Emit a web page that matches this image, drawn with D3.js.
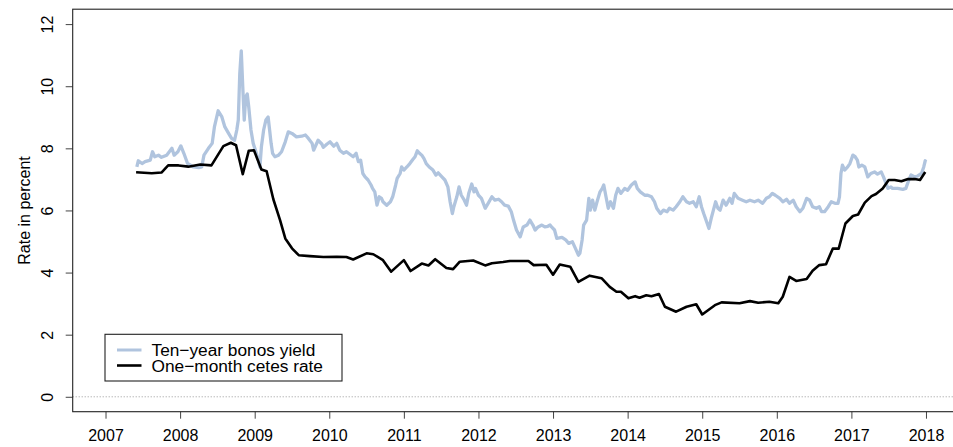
<!DOCTYPE html>
<html>
  <head>
    <meta charset="utf-8">
    <style>
      body { margin: 0; background: white; }
      svg { display: block; font-family: "Liberation Sans", Arial, Helvetica, sans-serif; }
    </style>
    <script src="https://d3js.org/d3.v7.min.js"></script>
    <title>bonos vs cetes</title>
  </head>
  <body>
    <div id="my_dataviz"></div>
    <script>
    // ---- data (decimal year, percent)
    var bonosDates = [2007.42,2007.44,2007.49,2007.53,2007.60,2007.63,2007.66,2007.71,2007.75,2007.82,2007.89,2007.92,2007.97,2008.01,2008.05,2008.10,2008.18,2008.25,2008.29,2008.32,2008.38,2008.43,2008.46,2008.51,2008.56,2008.60,2008.65,2008.69,2008.73,2008.76,2008.78,2008.80,2008.82,2008.84,2008.86,2008.88,2008.90,2008.92,2008.95,2008.98,2009.01,2009.05,2009.07,2009.09,2009.12,2009.15,2009.18,2009.20,2009.22,2009.24,2009.27,2009.32,2009.36,2009.41,2009.45,2009.50,2009.56,2009.63,2009.68,2009.72,2009.77,2009.79,2009.82,2009.85,2009.90,2009.92,2009.97,2010.01,2010.06,2010.10,2010.14,2010.19,2010.23,2010.28,2010.32,2010.36,2010.39,2010.42,2010.45,2010.48,2010.52,2010.56,2010.58,2010.61,2010.64,2010.67,2010.70,2010.72,2010.77,2010.82,2010.85,2010.89,2010.91,2010.95,2010.97,2011.00,2011.04,2011.08,2011.12,2011.15,2011.18,2011.21,2011.24,2011.27,2011.30,2011.34,2011.39,2011.43,2011.46,2011.51,2011.55,2011.59,2011.62,2011.65,2011.67,2011.71,2011.74,2011.77,2011.81,2011.84,2011.87,2011.91,2011.94,2011.96,2012.00,2012.04,2012.09,2012.13,2012.18,2012.22,2012.27,2012.31,2012.35,2012.40,2012.44,2012.47,2012.51,2012.56,2012.60,2012.65,2012.69,2012.73,2012.76,2012.80,2012.85,2012.89,2012.93,2012.96,2012.98,2013.02,2013.05,2013.12,2013.17,2013.21,2013.26,2013.30,2013.34,2013.36,2013.39,2013.41,2013.45,2013.48,2013.50,2013.53,2013.56,2013.59,2013.63,2013.66,2013.68,2013.71,2013.74,2013.77,2013.81,2013.84,2013.87,2013.91,2013.96,2014.00,2014.05,2014.10,2014.13,2014.17,2014.23,2014.27,2014.32,2014.36,2014.39,2014.44,2014.48,2014.53,2014.56,2014.61,2014.65,2014.70,2014.74,2014.79,2014.83,2014.88,2014.92,2014.96,2014.99,2015.02,2015.06,2015.09,2015.12,2015.15,2015.18,2015.21,2015.24,2015.28,2015.32,2015.37,2015.40,2015.43,2015.48,2015.54,2015.59,2015.64,2015.70,2015.75,2015.81,2015.86,2015.90,2015.94,2015.98,2016.04,2016.08,2016.13,2016.17,2016.22,2016.26,2016.31,2016.35,2016.40,2016.44,2016.48,2016.53,2016.57,2016.60,2016.64,2016.69,2016.73,2016.78,2016.82,2016.84,2016.86,2016.88,2016.91,2016.95,2016.98,2017.02,2017.05,2017.08,2017.10,2017.14,2017.18,2017.22,2017.26,2017.31,2017.35,2017.40,2017.43,2017.49,2017.53,2017.55,2017.62,2017.69,2017.73,2017.77,2017.80,2017.85,2017.89,2017.94,2017.97,2017.99,2018.00]
    var bonosValues = [7.40,7.60,7.51,7.57,7.62,7.89,7.73,7.78,7.71,7.78,8.00,7.78,7.89,8.08,7.84,7.51,7.40,7.38,7.40,7.78,8.00,8.16,8.69,9.21,9.01,8.69,8.48,8.32,8.26,8.59,8.91,10.41,11.14,9.98,8.91,9.66,9.75,9.34,8.59,8.16,7.94,7.62,7.40,8.05,8.59,8.91,9.01,8.59,8.16,7.84,7.73,7.78,7.89,8.21,8.53,8.48,8.37,8.39,8.43,8.32,8.16,7.94,8.10,8.26,8.14,8.03,8.14,8.21,8.07,8.16,7.94,7.84,7.89,7.80,7.73,7.84,7.57,7.62,7.19,7.08,6.98,6.82,6.71,6.60,6.17,6.44,6.39,6.28,6.17,6.28,6.44,6.82,7.03,7.19,7.40,7.30,7.40,7.51,7.64,7.73,7.92,7.84,7.78,7.67,7.51,7.40,7.30,7.14,7.21,7.08,6.98,6.76,6.28,5.90,6.12,6.44,6.76,6.49,6.33,6.17,6.55,6.85,6.60,6.71,6.49,6.39,6.07,6.23,6.44,6.33,6.36,6.28,6.17,6.14,5.96,5.69,5.37,5.15,5.47,5.53,5.69,5.53,5.37,5.47,5.53,5.47,5.49,5.53,5.47,5.37,5.10,5.13,5.05,4.94,4.99,4.78,4.56,4.62,5.05,5.53,5.69,6.39,6.01,6.33,6.01,6.28,6.60,6.71,6.82,6.44,6.07,6.28,6.07,6.49,6.71,6.55,6.71,6.65,6.82,6.92,6.71,6.60,6.49,6.49,6.44,6.28,6.07,5.90,6.01,5.96,6.07,6.01,6.12,6.28,6.44,6.28,6.23,6.28,6.12,6.44,6.12,5.90,5.63,5.42,5.74,6.01,6.28,6.07,6.01,6.33,6.17,6.39,6.23,6.55,6.39,6.33,6.28,6.33,6.28,6.33,6.23,6.39,6.44,6.55,6.49,6.39,6.28,6.36,6.23,6.33,6.12,5.96,6.07,6.39,6.33,6.12,6.07,6.12,5.96,5.96,6.12,6.28,6.23,6.23,6.44,7.19,7.46,7.30,7.40,7.51,7.78,7.73,7.62,7.40,7.46,7.40,7.08,7.19,7.24,7.17,7.24,7.08,6.71,6.76,6.71,6.71,6.68,6.71,6.98,7.14,7.08,7.11,7.19,7.40,7.60,7.57]

    var cetesDates = [2007.41,2007.62,2007.75,2007.84,2007.98,2008.11,2008.27,2008.42,2008.58,2008.68,2008.75,2008.84,2008.92,2008.99,2009.09,2009.16,2009.25,2009.34,2009.41,2009.50,2009.59,2009.74,2009.92,2010.10,2010.23,2010.32,2010.50,2010.59,2010.72,2010.83,2011.00,2011.09,2011.24,2011.33,2011.42,2011.57,2011.66,2011.75,2011.93,2012.09,2012.18,2012.33,2012.42,2012.67,2012.74,2012.91,2013.00,2013.09,2013.23,2013.34,2013.49,2013.65,2013.76,2013.85,2013.91,2014.01,2014.10,2014.16,2014.25,2014.32,2014.42,2014.50,2014.65,2014.79,2014.92,2015.00,2015.17,2015.26,2015.50,2015.64,2015.75,2015.90,2016.02,2016.08,2016.17,2016.26,2016.40,2016.48,2016.57,2016.66,2016.75,2016.83,2016.92,2017.02,2017.09,2017.18,2017.27,2017.33,2017.42,2017.50,2017.58,2017.67,2017.76,2017.85,2017.92,2017.99]
    var cetesValues = [7.23,7.20,7.22,7.45,7.45,7.41,7.48,7.45,8.07,8.18,8.10,7.17,7.92,7.94,7.32,7.26,6.36,5.69,5.10,4.78,4.56,4.53,4.50,4.51,4.50,4.42,4.62,4.59,4.40,4.03,4.40,4.05,4.29,4.23,4.43,4.15,4.11,4.35,4.39,4.23,4.30,4.34,4.37,4.37,4.24,4.25,3.93,4.26,4.19,3.70,3.90,3.82,3.54,3.38,3.38,3.17,3.24,3.19,3.27,3.24,3.31,2.90,2.74,2.90,2.98,2.65,2.95,3.04,3.01,3.08,3.03,3.06,3.01,3.22,3.86,3.73,3.79,4.06,4.24,4.27,4.77,4.77,5.58,5.82,5.87,6.25,6.46,6.53,6.71,6.98,6.98,6.94,7.01,7.01,6.98,7.24]

    var yearTicks = [2007,2008,2009,2010,2011,2012,2013,2014,2015,2016,2017,2018]
    var rateTicks = [0,2,4,6,8,10,12]
    var seriesNames = ["Ten\u2212year bonos yield", "One\u2212month cetes rate"]
    var seriesColors = ["#b0c4de", "black"]

    // ---- page size and plot region (names chosen so they don't clash with window.top)
    var W = 953, H = 447
    var plotL = 72.7, plotR = 958.8, plotT = 9.2, plotB = 411.7

    var svg = d3.select("#my_dataviz")
      .append("svg")
        .attr("width", W)
        .attr("height", H)

    // R style 4% padding around the data range
    var x = d3.scaleLinear().domain([2006.56, 2018.44]).range([plotL, plotR])
    var y = d3.scaleLinear().domain([-0.48, 12.48]).range([plotB, plotT])

    var bonos = bonosDates.map(function(d, i) { return [d, bonosValues[i]] })
    var cetes = cetesDates.map(function(d, i) { return [d, cetesValues[i]] })

    var line = d3.line()
      .x(function(d) { return x(d[0]) })
      .y(function(d) { return y(d[1]) })

    // dotted zero line
    svg.append("line")
      .attr("x1", plotL).attr("x2", plotR)
      .attr("y1", y(0)).attr("y2", y(0))
      .style("stroke", "#999")
      .style("stroke-width", 1)
      .style("stroke-dasharray", "1,2")

    // the two series
    svg.append("path")
      .attr("d", line(bonos))
      .style("fill", "none")
      .style("stroke", seriesColors[0])
      .style("stroke-width", 3.3)
      .style("stroke-linejoin", "round")

    svg.append("path")
      .attr("d", line(cetes))
      .style("fill", "none")
      .style("stroke", seriesColors[1])
      .style("stroke-width", 2.6)
      .style("stroke-linejoin", "round")

    // axes
    var xAxis = svg.append("g")
      .attr("transform", "translate(0," + plotB + ")")
      .call(d3.axisBottom(x).tickValues(yearTicks).tickFormat(d3.format("d")).tickSize(7).tickSizeOuter(0))
    xAxis.select(".domain").remove()
    xAxis.selectAll("text")
      .attr("dy", 0).attr("y", 29.5)
      .style("font-size", "16px").style("fill", "black")
      .style("font-family", "\"Liberation Sans\", Arial, sans-serif")
    xAxis.selectAll("line").style("stroke", "#444")

    var yAxis = svg.append("g")
      .attr("transform", "translate(" + plotL + ",0)")
      .call(d3.axisLeft(y).tickValues(rateTicks).tickSize(7).tickSizeOuter(0))
    yAxis.select(".domain").remove()
    yAxis.selectAll("text")
      .attr("transform", "rotate(-90)")
      .attr("x", 0).attr("y", -20).attr("dy", 0)
      .style("text-anchor", "middle")
      .style("font-size", "16px").style("fill", "black")
      .style("font-family", "\"Liberation Sans\", Arial, sans-serif")
    yAxis.selectAll("line").style("stroke", "#444")

    // box around the plot (right side falls off the page)
    svg.append("rect")
      .attr("x", plotL).attr("y", plotT)
      .attr("width", plotR - plotL).attr("height", plotB - plotT)
      .style("fill", "none")
      .style("stroke", "#222")
      .style("stroke-width", 1.1)

    // y label
    svg.append("text")
      .attr("transform", "translate(30," + ((plotT + plotB) / 2) + ") rotate(-90)")
      .style("text-anchor", "middle")
      .style("font-size", "16px")
      .text("Rate in percent")

    // legend
    var lg = svg.append("g")
    lg.append("rect")
      .attr("x", 105).attr("y", 334.3)
      .attr("width", 237).attr("height", 46.7)
      .style("fill", "white")
      .style("stroke", "#222")
      .style("stroke-width", 1.1)
    seriesNames.forEach(function(name, i) {
      var ly = 350 + i * 15.5
      lg.append("line")
        .attr("x1", 117).attr("x2", 141.5)
        .attr("y1", ly).attr("y2", ly)
        .style("stroke", seriesColors[i])
        .style("stroke-width", i == 0 ? 3 : 2.6)
      lg.append("text")
        .attr("x", 151.5).attr("y", ly + 6.3)
        .style("font-size", "17.3px")
        .text(name)
    })
    </script>
  </body>
</html>
